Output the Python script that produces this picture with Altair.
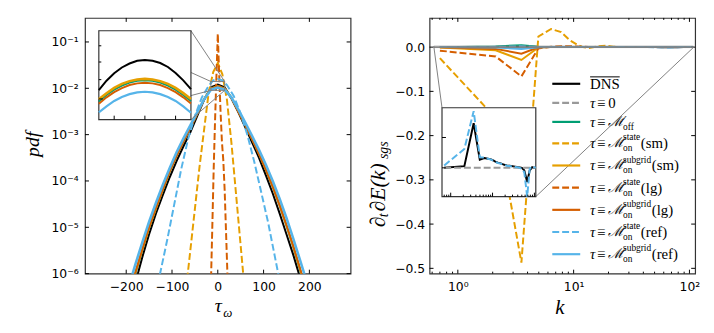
import altair as alt
import pandas as pd
import numpy as np

W, H = 269, 259
FR = "#333333"
SERIF = "Liberation Serif"
SANS = "DejaVu Sans"
COL = {"dns": "#000000", "zero": "#999999", "off": "#009E73",
       "sm": "#E69F00", "lg": "#D55E00", "ref": "#56B4E9"}
DASH = [7, 3]

# ---------------- left panel data: pdf of tau_omega (log10 values) ----------------
tau_solid = [-195, -180, -165, -150, -135, -120, -105, -90, -75, -60, -45, -30, -15, 0,
             15, 30, 45, 60, 75, 90, 105, 120, 135, 150, 165, 180, 195]
lp_dns = [-6.7, -6.2, -5.65, -5.15, -4.7, -4.3, -3.92, -3.57, -3.25, -2.95, -2.6, -2.25, -1.98, -1.917,
          -1.98, -2.22, -2.52, -2.84, -3.17, -3.5, -3.88, -4.27, -4.7, -5.15, -5.6, -6.1, -6.6]
lp_off = [-6.5, -6.0, -5.5, -5.02, -4.6, -4.2, -3.8, -3.46, -3.15, -2.86, -2.55, -2.24, -2.005, -1.96,
          -2.005, -2.21, -2.5, -2.8, -3.1, -3.42, -3.76, -4.13, -4.53, -4.97, -5.43, -5.93, -6.45]
lp_sm_sub = [-6.48, -5.98, -5.49, -5.01, -4.59, -4.19, -3.79, -3.45, -3.14, -2.85, -2.54, -2.23, -2.0, -1.957,
             -2.0, -2.2, -2.49, -2.79, -3.09, -3.41, -3.75, -4.12, -4.52, -4.96, -5.42, -5.92, -6.44]
lp_lg_sub = [-6.47, -5.97, -5.48, -5.0, -4.58, -4.18, -3.79, -3.46, -3.15, -2.86, -2.56, -2.25, -2.01, -1.965,
             -2.01, -2.22, -2.51, -2.8, -3.1, -3.42, -3.76, -4.12, -4.52, -4.95, -5.41, -5.9, -6.42]
lp_ref_sub = [-6.3, -5.8, -5.33, -4.88, -4.47, -4.08, -3.72, -3.38, -3.08, -2.8, -2.52, -2.24, -2.03, -1.985,
              -2.03, -2.2, -2.46, -2.74, -3.03, -3.33, -3.65, -4.0, -4.38, -4.8, -5.25, -5.72, -6.2]

tau_sm_state = [-80, -70, -60, -50, -40, -30, -20, -10, 0, 10, 20, 30, 40, 50, 60, 70]
lp_sm_state = [-7.4, -6.4, -5.5, -4.6, -3.7, -2.9, -2.1, -1.65, -1.45, -1.7, -2.25, -3.2, -4.3, -5.4, -6.5, -7.6]

tau_lg_state = [-22, -18, -14.5, -12, -9, -6, -3, 0, 3, 6, 9, 12, 15, 18, 21, 24]
lp_lg_state = [-7.8, -6.9, -6.0, -5.0, -3.75, -2.7, -1.75, -0.82, -1.7, -2.5, -3.15, -3.55, -4.2, -5.1, -6.0, -6.9]

tau_ref_state = [-140, -125, -110, -95, -80, -65, -50, -35, -20, -10, 0, 10, 20, 35, 50, 65, 80, 95, 110, 125, 140]
lp_ref_state = [-6.65, -5.95, -5.25, -4.5, -3.75, -3.1, -2.6, -2.2, -1.95, -1.83, -1.8, -1.83, -1.93, -2.17,
                -2.55, -3.02, -3.6, -4.25, -4.9, -5.65, -6.4]

# inset of left panel (pdf values near the peak)
tau_in = [-15, -12.5, -10, -7.5, -5, -2.5, 0, 2.5, 5, 7.5, 10, 12.5, 15]
pin_dns = [0.01045, 0.01094, 0.01135, 0.01168, 0.01191, 0.01207, 0.01212, 0.01207, 0.01194, 0.01171, 0.01137, 0.01096, 0.01050]
pin_off = [0.00988, 0.01020, 0.01047, 0.01068, 0.01084, 0.01094, 0.01097, 0.01094, 0.01084, 0.01068, 0.01047, 0.01020, 0.00990]
pin_sm_sub = [0.00998, 0.01029, 0.01056, 0.01077, 0.01092, 0.01101, 0.01104, 0.01101, 0.01092, 0.01077, 0.01056, 0.01029, 0.01000]
pin_lg_sub = [0.00976, 0.01008, 0.01034, 0.01055, 0.01071, 0.01080, 0.01083, 0.01080, 0.01071, 0.01055, 0.01034, 0.01008, 0.00978]
pin_ref_sub = [0.00936, 0.00964, 0.00990, 0.01010, 0.01024, 0.01033, 0.01036, 0.01033, 0.01024, 0.01010, 0.00990, 0.00964, 0.00934]

# ---------------- right panel data: d_t dE(k)_sgs ----------------
k = [0.7, 2.12, 3.54, 4.96, 6.38, 7.8, 9.22, 10.64, 12.06, 13.48, 16.3, 19.1, 22.0,
     27.6, 34.7, 41.8, 50.3, 57.4, 67.3, 77.3, 88.6, 98.5, 107.2]
e_dns = [0.0, 0.000055, 0.00147, 0.00027, 0.00032, 0.0003, 0.00028, 0.00024, 0.00019, 0.00017, 0.00014, 0.0001,
         0.00008, 0.00006, 0.00004, 0.00002, 0.0, -0.000085, -0.00047, -0.000085, 0.00002, 0.0, 0.0]
e_zero = [0.0] * 23
e_off = [0.0, 0.0015, 0.0045, 0.0008, 0.0003, 0.0, 0.0, 0.0, 0.0, 0.0, 0.0, 0.0,
         0.0, 0.0, 0.0, 0.0, 0.0, 0.0, 0.0, 0.0, 0.0, 0.0, 0.0]
e_sm_state = [-0.025, -0.16, -0.487, 0.024, 0.041, 0.034, 0.016, 0.006, 0.0, -0.002, 0.002, 0.003,
              0.001, 0.0, 0.0, 0.0, 0.0, 0.0, 0.0, 0.0, 0.0, 0.0, 0.0]
e_sm_sub = [-0.001, -0.007, -0.029, -0.001, 0.0, 0.0, 0.0, 0.0, 0.0, 0.0, 0.0, 0.0,
            0.0, 0.0, 0.0, 0.0, 0.0, 0.0, 0.0, 0.0, 0.0, 0.0, 0.0]
e_lg_state = [-0.008, -0.021, -0.066, -0.003, 0.001, 0.002, 0.002, 0.0015, 0.001, 0.0005, 0.0, 0.0,
              0.0, 0.0, 0.0, 0.0, 0.0, 0.0, 0.0, 0.0, 0.0, 0.0, 0.0]
e_lg_sub = [-0.0005, -0.004, -0.015, -0.0005, 0.0, 0.0, 0.0, 0.0, 0.0, 0.0, 0.0, 0.0,
            0.0, 0.0, 0.0, 0.0, 0.0, 0.0, 0.0, 0.0, 0.0, 0.0, 0.0]
e_ref_state = [0.00008, 0.00062, 0.00187, 0.00035, 0.00034, 0.0003, 0.00027, 0.00023, 0.00019, 0.00016, 0.00013, 0.0001,
               0.00007, 0.00005, 0.00003, 0.00001, -0.00003, -0.00015, -0.00095, -0.00003, 0.00005, 0.00002, 0.0]
e_ref_sub = [0.0, -0.0008, -0.004, -0.0002, 0.0, 0.0, 0.0, 0.0, 0.0, 0.0, 0.0, 0.0,
             0.0, 0.0, 0.0, 0.0, 0.0, 0.0, 0.0, 0.0, 0.0, 0.0, 0.0]

legend_sup = ["state", "subgrid", "state", "subgrid", "state", "subgrid"]
legend_tail = ["(sm)", "(sm)", "(lg)", "(lg)", "(ref)", "(ref)"]

# ---------------- helpers ----------------
LX_S = alt.Scale(domain=[-290, 290], nice=False, zero=False)
LY_S = alt.Scale(type="log", domain=[1e-6, 0.33], nice=False)
LX_A = alt.Axis(values=[-200, -100, 0, 100, 200], format="d", title=None, labelPadding=7)
LY_A = alt.Axis(values=[1e-6, 1e-5, 1e-4, 1e-3, 1e-2, 1e-1], title=None, labelPadding=7,
                labelExpr="'10' + ['⁻⁶','⁻⁵','⁻⁴','⁻³','⁻²','⁻¹'][round(log(datum.value)/LN10) + 6]")
RX_S = alt.Scale(type="log", domain=[0.57, 112], nice=False)
RY_S = alt.Scale(domain=[-0.512, 0.066], nice=False, zero=False)
RX_A = alt.Axis(values=[1, 10, 100], title=None, labelPadding=7,
                labelExpr="'10' + ['⁰','¹','²'][round(log(datum.value)/LN10)]")
RY_A = alt.Axis(values=[0, -0.1, -0.2, -0.3, -0.4, -0.5], format=".1f", title=None, labelPadding=5)


def LX(f):
    return alt.X(f, type="quantitative", scale=LX_S, axis=LX_A)


def LY(f):
    return alt.Y(f, type="quantitative", scale=LY_S, axis=LY_A)


def RX(f):
    return alt.X(f, type="quantitative", scale=RX_S, axis=RX_A)


def RY(f):
    return alt.Y(f, type="quantitative", scale=RY_S, axis=RY_A)


def line(df, xe, ye, color, dash, width=2.0):
    kw = dict(color=color, strokeWidth=width, clip=True)
    if dash:
        kw["strokeDash"] = dash
    return alt.Chart(df).mark_line(**kw).encode(x=xe, y=ye)


def yticks(vals, yfun, length, w=W):
    df = pd.DataFrame({"v": vals})
    return [alt.Chart(df).mark_rule(color="black", strokeWidth=1).encode(
                y=yfun("v"), x=alt.value(0), x2=alt.value(length)),
            alt.Chart(df).mark_rule(color="black", strokeWidth=1).encode(
                y=yfun("v"), x=alt.value(w - length), x2=alt.value(w))]


def xticks(vals, xfun, length, h=H):
    df = pd.DataFrame({"v": vals})
    return [alt.Chart(df).mark_rule(color="black", strokeWidth=1).encode(
                x=xfun("v"), y=alt.value(h - length), y2=alt.value(h)),
            alt.Chart(df).mark_rule(color="black", strokeWidth=1).encode(
                x=xfun("v"), y=alt.value(0), y2=alt.value(length))]


def text(s, x, y, size, angle=0, align="center", baseline="middle", style="italic", font=SERIF):
    return alt.Chart(pd.DataFrame({"t": [s]})).mark_text(
        font=font, fontSize=size, fontStyle=style, angle=angle, align=align,
        baseline=baseline, color="black").encode(text="t:N", x=alt.value(x), y=alt.value(y))


one = pd.DataFrame({"a": [0]})

# ---------------- left panel ----------------
left_series = [
    (tau_solid, lp_dns, COL["dns"], None, 2.0),
    (tau_solid, lp_off, COL["off"], None, 2.0),
    (tau_sm_state, lp_sm_state, COL["sm"], DASH, 2.0),
    (tau_solid, lp_sm_sub, COL["sm"], None, 2.0),
    (tau_lg_state, lp_lg_state, COL["lg"], DASH, 2.0),
    (tau_solid, lp_lg_sub, COL["lg"], None, 2.0),
    (tau_ref_state, lp_ref_state, COL["ref"], DASH, 2.0),
    (tau_solid, lp_ref_sub, COL["ref"], None, 2.6),
]
L_main = []
for t, lp, c, d, w in left_series:
    df = pd.DataFrame({"tau": t, "p": 10 ** np.array(lp)})
    L_main.append(line(df, LX("tau"), LY("p"), c, d, w))
L_main += yticks([1e-6, 1e-5, 1e-4, 1e-3, 1e-2, 1e-1], LY, 4)
L_main += xticks([-200, -100, 0, 100, 200], LX, 4)

IN_X = [-15, 15]
IN_Y = [0.00903, 0.0140]
IBOX = (14, 107.3, 13, 103)   # inset box in panel pixels: x0, x1, y0, y1
rect_df = pd.DataFrame({"x1": [IN_X[0]], "x2": [IN_X[1]], "y1": [IN_Y[0]], "y2": [IN_Y[1]]})
L_main.append(alt.Chart(rect_df).mark_rect(fillOpacity=0, stroke="#808080", strokeWidth=1).encode(
    x=LX("x1"), x2="x2", y=LY("y1"), y2="y2"))
for cx, cy, px, py in [(IN_X[0], IN_Y[1], IBOX[0], IBOX[2]), (IN_X[1], IN_Y[1], IBOX[1], IBOX[2]),
                       (IN_X[0], IN_Y[0], IBOX[0], IBOX[3]), (IN_X[1], IN_Y[0], IBOX[1], IBOX[3])]:
    L_main.append(alt.Chart(pd.DataFrame({"x": [cx], "y": [cy]})).mark_rule(
        color="#808080", strokeWidth=1).encode(x=LX("x"), y=LY("y"), x2=alt.value(px), y2=alt.value(py)))

LIX = lambda f: alt.X(f, type="quantitative", axis=None,
                      scale=alt.Scale(domain=IN_X, range=[IBOX[0], IBOX[1]], nice=False, zero=False))
LIY = lambda f: alt.Y(f, type="quantitative", axis=None,
                      scale=alt.Scale(type="log", domain=IN_Y, range=[IBOX[3], IBOX[2]], nice=False))
L_inset = [alt.Chart(one).mark_rect(fill="white", stroke=FR, strokeWidth=1.2).encode(
    x=alt.value(IBOX[0]), x2=alt.value(IBOX[1]), y=alt.value(IBOX[2]), y2=alt.value(IBOX[3]))]
for p, c, w in [(pin_dns, COL["dns"], 2.0), (pin_off, COL["off"], 2.0), (pin_sm_sub, COL["sm"], 2.6),
                (pin_lg_sub, COL["lg"], 2.0), (pin_ref_sub, COL["ref"], 2.2)]:
    L_inset.append(line(pd.DataFrame({"tau": tau_in, "p": p}), LIX("tau"), LIY("p"), c, None, w))
for v, ln in [(0.010, 4), (0.011, 2.5), (0.012, 2.5), (0.013, 2.5)]:
    L_inset.append(alt.Chart(pd.DataFrame({"v": [v]})).mark_rule(color="black", strokeWidth=1).encode(
        y=LIY("v"), x=alt.value(IBOX[0]), x2=alt.value(IBOX[0] + ln)))
L_inset.append(alt.Chart(pd.DataFrame({"v": [-10, 0, 10]})).mark_rule(color="black", strokeWidth=1).encode(
    x=LIX("v"), y=alt.value(IBOX[3] - 4), y2=alt.value(IBOX[3])))

L_titles = [
    text("pdf", -53, 128, 20, angle=270),
    text("τ", 135, 292, 20),
    text("ω", 140, 299, 13, align="left"),
]

left = alt.layer(alt.layer(*L_main), alt.layer(*L_inset), *L_titles).resolve_scale(
    x="independent", y="independent").properties(width=W, height=H)

# ---------------- right panel ----------------
right_series = [
    (e_dns, COL["dns"], None, 2.0),
    (e_zero, COL["zero"], DASH, 2.0),
    (e_off, COL["off"], None, 2.0),
    (e_sm_state, COL["sm"], DASH, 2.0),
    (e_sm_sub, COL["sm"], None, 2.0),
    (e_lg_state, COL["lg"], DASH, 2.0),
    (e_lg_sub, COL["lg"], None, 2.0),
    (e_ref_state, COL["ref"], DASH, 2.0),
    (e_ref_sub, COL["ref"], None, 2.0),
]
R_main = []
for e, c, d, w in right_series:
    R_main.append(line(pd.DataFrame({"k": k, "e": e}), RX("k"), RY("e"), c, d, w))
R_main += yticks([0, -0.1, -0.2, -0.3, -0.4, -0.5], RY, 4)
R_main += xticks([1, 10, 100], RX, 4)
R_main += xticks([0.6, 0.7, 0.8, 0.9, 2, 3, 4, 5, 6, 7, 8, 9, 20, 30, 40, 50, 60, 70, 80, 90], RX, 2)

RIN_X = [0.62, 108]
RIN_Y = [-0.00095, 0.00198]
RBOX = (12.6, 107.6, 91, 181)
R_main.append(alt.Chart(pd.DataFrame({"x1": [RIN_X[0]], "x2": [RIN_X[1]], "y1": [RIN_Y[0]], "y2": [RIN_Y[1]]}))
              .mark_rect(fillOpacity=0, stroke="#808080", strokeWidth=1).encode(
    x=RX("x1"), x2="x2", y=RY("y1"), y2="y2"))
for cx, cy, px, py in [(RIN_X[0], RIN_Y[1], RBOX[0], RBOX[2]), (RIN_X[1], RIN_Y[0], RBOX[1], RBOX[3])]:
    R_main.append(alt.Chart(pd.DataFrame({"x": [cx], "y": [cy]})).mark_rule(
        color="#808080", strokeWidth=1).encode(x=RX("x"), y=RY("y"), x2=alt.value(px), y2=alt.value(py)))

RIX = lambda f: alt.X(f, type="quantitative", axis=None,
                      scale=alt.Scale(type="log", domain=RIN_X, range=[RBOX[0], RBOX[1]], nice=False))
RIY = lambda f: alt.Y(f, type="quantitative", axis=None,
                      scale=alt.Scale(domain=RIN_Y, range=[RBOX[3], RBOX[2]], nice=False, zero=False))
R_inset = [alt.Chart(one).mark_rect(fill="white", stroke=FR, strokeWidth=1.2).encode(
    x=alt.value(RBOX[0]), x2=alt.value(RBOX[1]), y=alt.value(RBOX[2]), y2=alt.value(RBOX[3]))]
for e, c, d in [(e_dns, COL["dns"], None), (e_zero, COL["zero"], DASH), (e_ref_state, COL["ref"], DASH)]:
    R_inset.append(line(pd.DataFrame({"k": k, "e": e}), RIX("k"), RIY("e"), c, d, 2.0))
R_inset.append(alt.Chart(pd.DataFrame({"v": [1, 10, 100]})).mark_rule(color="black", strokeWidth=1).encode(
    x=RIX("v"), y=alt.value(RBOX[3] - 4), y2=alt.value(RBOX[3])))
R_inset.append(alt.Chart(pd.DataFrame({"v": [0.7, 0.8, 0.9, 2, 3, 4, 5, 6, 7, 8, 9, 20, 30, 40, 50, 60, 70, 80, 90]}))
               .mark_rule(color="black", strokeWidth=1).encode(
    x=RIX("v"), y=alt.value(RBOX[3] - 2), y2=alt.value(RBOX[3])))
R_inset.append(alt.Chart(pd.DataFrame({"v": [0.0, 0.001]})).mark_rule(color="black", strokeWidth=1).encode(
    y=RIY("v"), x=alt.value(RBOX[0]), x2=alt.value(RBOX[0] + 4)))

# ---- legend (manual, so that sub/superscripts can be drawn) ----
LS_X0, LS_X1 = 124.3, 152.6
TX_TAU, TX_EQ, TX_M, TX_SS = 162.6, 169.5, 180.5, 196.0
TAIL_STATE, TAIL_SUB = 214.0, 225.0
FS, FSS = 15, 9.5
MFONT = "DejaVu Serif"


def ltext(df, yenc, field, x, size=FS, style="normal", font=SERIF, dy=0):
    return alt.Chart(df).mark_text(font=font, fontSize=size, fontStyle=style, align="left",
                                   baseline="middle", color="black", dy=dy).encode(
        y=yenc, x=alt.value(x), text=f"{field}:N")


legA = pd.DataFrame({"row": [0, 1, 2], "tau": ["", "τ", "τ"], "eq": ["", "≡", "≡"],
                     "rhs": ["DNS", "0", ""], "M": ["", "", "ℳ"], "sub": ["", "", "off"]})
AY = alt.Y("row:Q", axis=None, scale=alt.Scale(domain=[0, 2], range=[66.7, 105.3], nice=False, zero=False))
legA_layers = []
for i, (c, d) in enumerate([(COL["dns"], None), (COL["zero"], DASH), (COL["off"], None)]):
    kw = dict(color=c, strokeWidth=2.2)
    if d:
        kw["strokeDash"] = d
    legA_layers.append(alt.Chart(legA[legA.row == i]).mark_rule(**kw).encode(
        y=AY, x=alt.value(LS_X0), x2=alt.value(LS_X1)))
legA_layers += [
    ltext(legA[legA.row == 0], AY, "rhs", TX_TAU),
    ltext(legA[legA.row == 1], AY, "rhs", TX_M + 0.5),
    ltext(legA, AY, "tau", TX_TAU, style="italic"),
    ltext(legA, AY, "eq", TX_EQ),
    ltext(legA, AY, "M", TX_M, size=14, font=MFONT, style="italic"),
    ltext(legA, AY, "sub", TX_SS, size=FSS, dy=5),
    alt.Chart(legA[legA.row == 0]).mark_rule(color="black", strokeWidth=1, yOffset=-7).encode(
        y=AY, x=alt.value(TX_TAU), x2=alt.value(TX_TAU + 30)),
]

legB = pd.DataFrame({"row": list(range(6)), "sup": legend_sup, "tail": legend_tail,
                     "tau": ["τ"] * 6, "eq": ["≡"] * 6, "M": ["ℳ"] * 6, "sub": ["on"] * 6})
BY = alt.Y("row:Q", axis=None, scale=alt.Scale(domain=[0, 5], range=[127, 239.3], nice=False, zero=False))
legB_layers = []
for i, (c, d) in enumerate([(COL["sm"], DASH), (COL["sm"], None), (COL["lg"], DASH), (COL["lg"], None),
                            (COL["ref"], DASH), (COL["ref"], None)]):
    kw = dict(color=c, strokeWidth=2.2)
    if d:
        kw["strokeDash"] = d
    legB_layers.append(alt.Chart(legB[legB.row == i]).mark_rule(**kw).encode(
        y=BY, x=alt.value(LS_X0), x2=alt.value(LS_X1)))
legB_layers += [
    ltext(legB, BY, "tau", TX_TAU, style="italic"),
    ltext(legB, BY, "eq", TX_EQ),
    ltext(legB, BY, "M", TX_M, size=14, font=MFONT, style="italic"),
    ltext(legB, BY, "sup", TX_SS, size=FSS, dy=-6),
    ltext(legB, BY, "sub", TX_SS, size=FSS, dy=5),
    ltext(legB[legB.sup == "state"], BY, "tail", TAIL_STATE),
    ltext(legB[legB.sup == "subgrid"], BY, "tail", TAIL_SUB),
]

R_titles = [
    text("k", 132, 294, 21),
    text("∂", -52, 212, 22, angle=270, align="left"),
    text("t", -46, 202, 14, angle=270, align="left"),
    text("∂E(k)", -52, 196, 22, angle=270, align="left"),
    text("sgs", -46, 143, 14, angle=270, align="left"),
]

right = alt.layer(alt.layer(*R_main), alt.layer(*R_inset), alt.layer(*legA_layers),
                  alt.layer(*legB_layers), *R_titles).resolve_scale(
    x="independent", y="independent").properties(width=W, height=H)

chart = alt.hconcat(left, right, spacing=80, bounds="flush").properties(
    padding={"left": 14, "top": 6, "right": 5, "bottom": 5}
).configure_view(stroke=FR, strokeWidth=1.2).configure_axis(
    ticks=False, domain=False, grid=False, labelFont=SANS, labelFontSize=12.5, labelColor="black"
)

chart.save("out.html", embed_options={"renderer": "svg", "actions": False})
